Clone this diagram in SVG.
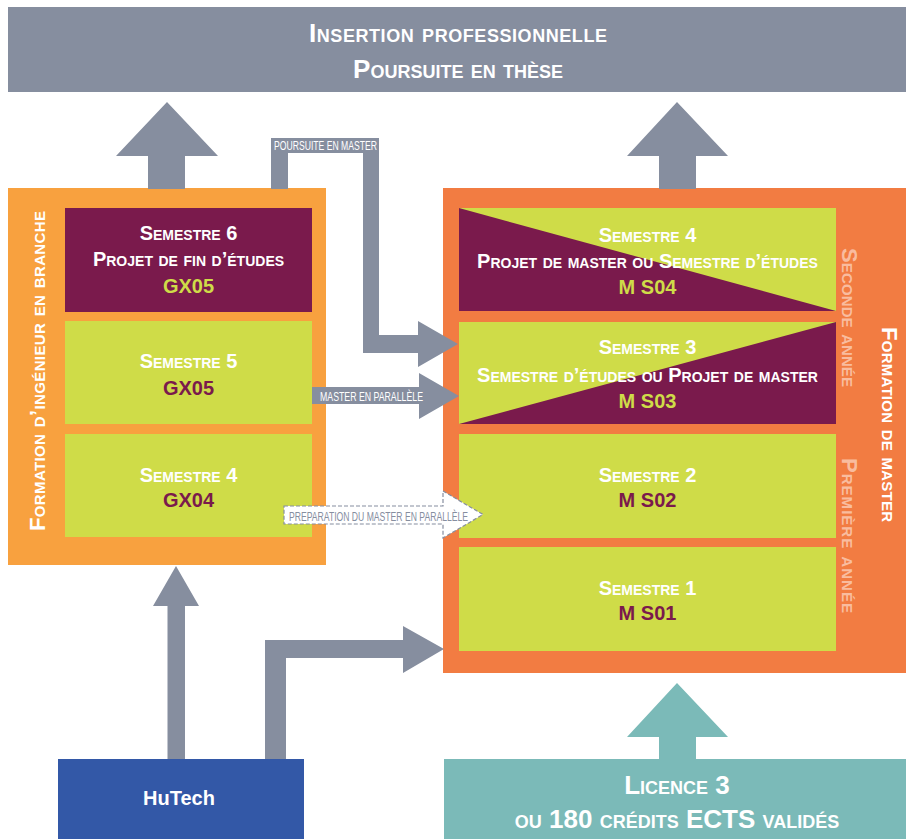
<svg xmlns="http://www.w3.org/2000/svg" width="906" height="839" viewBox="0 0 906 839">
<defs>
<style>
text{font-family:"Liberation Sans",Arial,sans-serif;font-weight:bold;}
.sc{font-variant:small-caps;}
.t{font-size:20px;text-anchor:middle;}
.w{fill:#ffffff;}
.g{fill:#CFDC48;}
.p{fill:#7A1A4C;}
.big{font-size:26px;text-anchor:middle;fill:#ffffff;}
.vl{font-size:22px;text-anchor:middle;}
.small{font-size:13px;font-weight:normal;}
.gray{fill:#868E9F;}
.teal{fill:#7BBAB8;}
</style>
</defs>
<rect width="906" height="839" fill="#ffffff"/>

<g id="banner">
<rect x="8" y="7" width="898" height="85" class="gray"/>
<text x="458" y="42" class="big sc" textLength="298">Insertion professionnelle</text>
<text x="458" y="78" class="big sc">Poursuite en thèse</text>
</g>

<g id="formation-ingenieur">
<rect x="8" y="188" width="318" height="377" fill="#F8A13F"/>
<text class="vl sc w" transform="translate(45,371) rotate(-90)" textLength="320">Formation d’ingénieur en branche</text>
</g>
<g id="gx-s6">
<rect x="65" y="208" width="247" height="104" class="p"/>
<text x="188.5" y="240" class="t sc w">Semestre 6</text>
<text x="188.5" y="266" class="t sc w">Projet de fin d’études</text>
<text x="188.5" y="293" class="t g">GX05</text>
</g>
<g id="gx-s5">
<rect x="65" y="321" width="247" height="103" class="g"/>
<text x="188.5" y="368" class="t sc w">Semestre 5</text>
<text x="188.5" y="395" class="t p">GX05</text>
</g>
<g id="gx-s4">
<rect x="65" y="434" width="247" height="103" class="g"/>
<text x="188.5" y="482" class="t sc w">Semestre 4</text>
<text x="188.5" y="507" class="t p">GX04</text>
</g>

<g id="formation-master">
<rect x="443" y="188" width="463" height="485" fill="#F27C42"/>
<text class="vl sc" fill="#F9BC9F" transform="translate(842,317.5) rotate(90)" textLength="139">Seconde année</text>
<text class="vl sc" fill="#F9BC9F" transform="translate(842,535.5) rotate(90)" textLength="155">Première année</text>
<text class="vl sc w" transform="translate(882,424.5) rotate(90)" textLength="195">Formation de master</text>
</g>
<g id="m-s04">
<rect x="459" y="208" width="377" height="103" class="g"/>
<polygon points="459,208 836,311 459,311" class="p"/>
<text x="647.5" y="242" class="t sc w">Semestre 4</text>
<text x="647.5" y="268" class="t sc w">Projet de master ou Semestre d’études</text>
<text x="647.5" y="294" class="t g">M S04</text>
</g>
<g id="m-s03">
<rect x="459" y="322" width="377" height="102" class="g"/>
<polygon points="836,322 836,424 459,424" class="p"/>
<text x="647.5" y="354" class="t sc w">Semestre 3</text>
<text x="647.5" y="382" class="t sc w">Semestre d’études ou Projet de master</text>
<text x="647.5" y="408" class="t g">M S03</text>
</g>
<g id="m-s02">
<rect x="459" y="434" width="377" height="104" class="g"/>
<text x="647.5" y="482" class="t sc w">Semestre 2</text>
<text x="647.5" y="507" class="t p">M S02</text>
</g>
<g id="m-s01">
<rect x="459" y="547" width="377" height="104" class="g"/>
<text x="647.5" y="595" class="t sc w">Semestre 1</text>
<text x="647.5" y="620" class="t p">M S01</text>
</g>

<g id="hutech">
<rect x="58" y="759" width="246" height="80" fill="#3358A7"/>
<text x="179" y="805" class="t w">HuTech</text>
</g>
<g id="licence">
<rect x="444" y="759" width="462" height="80" class="teal"/>
<text x="677" y="794" class="sc w" font-size="26" text-anchor="middle">Licence 3</text>
<text x="677" y="828" class="sc w" font-size="26" text-anchor="middle">ou 180 crédits ECTS validés</text>
</g>

<g id="connectors">
<polygon class="gray" points="148,189 148,156 116,156 167,102 218,156 185,156 185,189"/>
<polygon class="gray" points="659,189 659,156 627,156 677,102 728,156 696,156 696,189"/>
<polygon class="gray" points="271,189 271,138 379,138 379,335 418,335 418,321 458,344 418,367 418,353 363,353 363,153 288,153 288,189"/>
<text x="274" y="149.5" class="small w" textLength="103" lengthAdjust="spacingAndGlyphs">POURSUITE EN MASTER</text>
<polygon class="gray" points="312,387 419,387 419,373 459,396 419,419 419,404 312,404"/>
<text x="320" y="400.5" class="small w" textLength="103" lengthAdjust="spacingAndGlyphs">MASTER EN PARALLÈLE</text>
<polygon points="284,506 443,506 443,491 483,514.5 443,538 443,524 284,524" fill="#ffffff" stroke="#868E9F" stroke-width="1.2" stroke-dasharray="4 2"/>
<text x="289" y="520.5" class="small gray" textLength="179" lengthAdjust="spacingAndGlyphs">PREPARATION DU MASTER EN PARALLÈLE</text>
<polygon class="gray" points="167.5,759 167.5,606 153,606 176,566 199,606 185,606 185,759"/>
<polygon class="gray" points="265,759 265,640 403,640 403,626 444,649 403,673 403,658 286,658 286,759"/>
<polygon class="teal" points="659,759 659,737 627,737 677,683 728,737 696,737 696,759"/>
</g>
</svg>
